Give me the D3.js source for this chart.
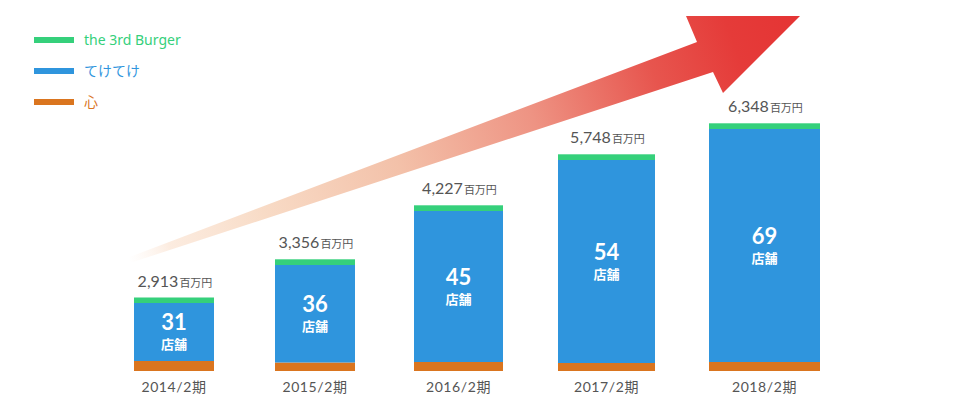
<!DOCTYPE html>
<html><head><meta charset="utf-8">
<script src="https://cdn.jsdelivr.net/npm/d3@7"></script>
<style>
html,body{margin:0;padding:0;background:#fff;}
svg{display:block;}
</style></head>
<body>
<svg id="chart" width="960" height="412"></svg>
<script>
// ---- data ----
const categories = ["2014/2期", "2015/2期", "2016/2期", "2017/2期", "2018/2期"];
const revenue = [2913, 3356, 4227, 5748, 6348];          // 百万円 labels
const stores = [31, 36, 45, 54, 69];                      // 店舗
const seriesNames = ["心", "てけてけ", "the 3rd Burger"];  // stack order bottom → top
// segment sizes as drawn in the (not-to-scale) illustration
const kokoro = [10, 8.5, 9, 8, 9];
const teketeke = [58, 97.5, 151, 203, 233];
const burger = [5.5, 5.7, 5.7, 5.7, 5.7];
const legendOrder = ["the 3rd Burger", "てけてけ", "心"];

// ---- layout / style ----
const colors = {"the 3rd Burger": "#35d07b", "てけてけ": "#2f95dd", "心": "#da751f"};
const barLeft = [134, 275, 414, 558, 709];
const barWidth = [80, 80, 89, 97, 111];
const baseY = 371;

const svg = d3.select("#chart");
const defs = svg.append("defs");

const x = d3.scaleOrdinal().domain(categories).range(barLeft);
const w = d3.scaleOrdinal().domain(categories).range(barWidth);
const y = d3.scaleLinear().domain([0, 250]).range([baseY, baseY - 250]);

// ---- arrow ----
const arrowStart = [129, 260], arrowTip = [800, 16];
const grad = defs.append("linearGradient").attr("id", "ag")
  .attr("gradientUnits", "userSpaceOnUse")
  .attr("x1", arrowStart[0]).attr("y1", arrowStart[1])
  .attr("x2", arrowTip[0]).attr("y2", arrowTip[1]);
[[0, "#fdf0e6", 0], [0.06, "#fbe7d8", 0.8], [0.2, "#f8dbc6", 1], [0.4, "#f3c1a9", 1],
 [0.6, "#ee9383", 1], [0.78, "#e7554e", 1], [0.9, "#e53b39", 1], [1, "#e53434", 1]]
  .forEach(s => grad.append("stop").attr("offset", s[0]).attr("stop-color", s[1]).attr("stop-opacity", s[2]));
const arrowPts = [[127, 258], [697, 42], [686, 16], [800, 16], [723, 93], [713, 72], [130, 263]];
svg.append("path").attr("d", d3.line()(arrowPts) + "Z").attr("fill", "url(#ag)");

// ---- stacked bars ----
const rows = categories.map((c, i) => ({cat: c, "心": kokoro[i], "てけてけ": teketeke[i], "the 3rd Burger": burger[i]}));
const stack = d3.stack().keys(seriesNames)(rows);
svg.append("g").selectAll("g").data(stack).join("g")
  .attr("fill", d => colors[d.key])
  .selectAll("rect").data(d => d).join("rect")
  .attr("x", d => x(d.data.cat))
  .attr("width", d => w(d.data.cat))
  .attr("y", d => y(d[1]))
  .attr("height", d => y(d[0]) - y(d[1]));

// revenue labels
const topLayer = stack[stack.length - 1];
const rev = svg.append("g").selectAll("text").data(categories).join("text")
  .attr("x", c => x(c) + w(c) / 2 + 1)
  .attr("y", (c, i) => y(topLayer[i][1]) - 11)
  .attr("text-anchor", "middle")
  .attr("fill", "#555");
rev.append("tspan").attr("font-family", "Lato, 'Noto Sans'").attr("font-size", 16)
  .text((c, i) => d3.format(",")(revenue[i]));
rev.append("tspan").attr("font-family", "'Noto Sans CJK JP'").attr("font-size", 11)
  .attr("dx", 1).text("百万円");

// store counts inside blue segment
const blue = stack[1];
const mid = i => (y(blue[i][0]) + y(blue[i][1])) / 2;
const sg = svg.append("g").attr("fill", "#fff").attr("text-anchor", "middle");
sg.selectAll("text.n").data(categories).join("text").attr("class", "n")
  .attr("x", c => x(c) + w(c) / 2)
  .attr("y", (c, i) => mid(i) - 2)
  .attr("font-family", "Lato, 'Noto Sans'").attr("font-weight", 700).attr("font-size", 22)
  .text((c, i) => stores[i]);
sg.selectAll("text.s").data(categories).join("text").attr("class", "s")
  .attr("x", c => x(c) + w(c) / 2)
  .attr("y", (c, i) => mid(i) + 17)
  .attr("font-family", "Lato, 'Noto Sans CJK JP'").attr("font-weight", 700).attr("font-size", 13)
  .text("店舗");

// x labels
svg.append("g").selectAll("text").data(categories).join("text")
  .attr("x", c => x(c) + w(c) / 2)
  .attr("y", baseY + 21)
  .attr("text-anchor", "middle")
  .attr("font-family", "Lato, 'Noto Sans CJK JP'").attr("font-size", 14)
  .attr("letter-spacing", 0.6)
  .attr("fill", "#555")
  .text(c => c);

// legend
const lg = svg.append("g").selectAll("g").data(legendOrder).join("g")
  .attr("transform", (d, i) => `translate(34,${40 + i * 31})`);
lg.append("rect").attr("x", 0).attr("y", -3).attr("width", 40).attr("height", 6)
  .attr("fill", d => colors[d]);
lg.append("text").attr("x", 50).attr("y", 0).attr("dy", "0.36em")
  .attr("font-family", "'Noto Sans', 'Noto Sans CJK JP'").attr("font-size", 14)
  .attr("fill", d => colors[d]).text(d => d);
</script>
</body></html>
